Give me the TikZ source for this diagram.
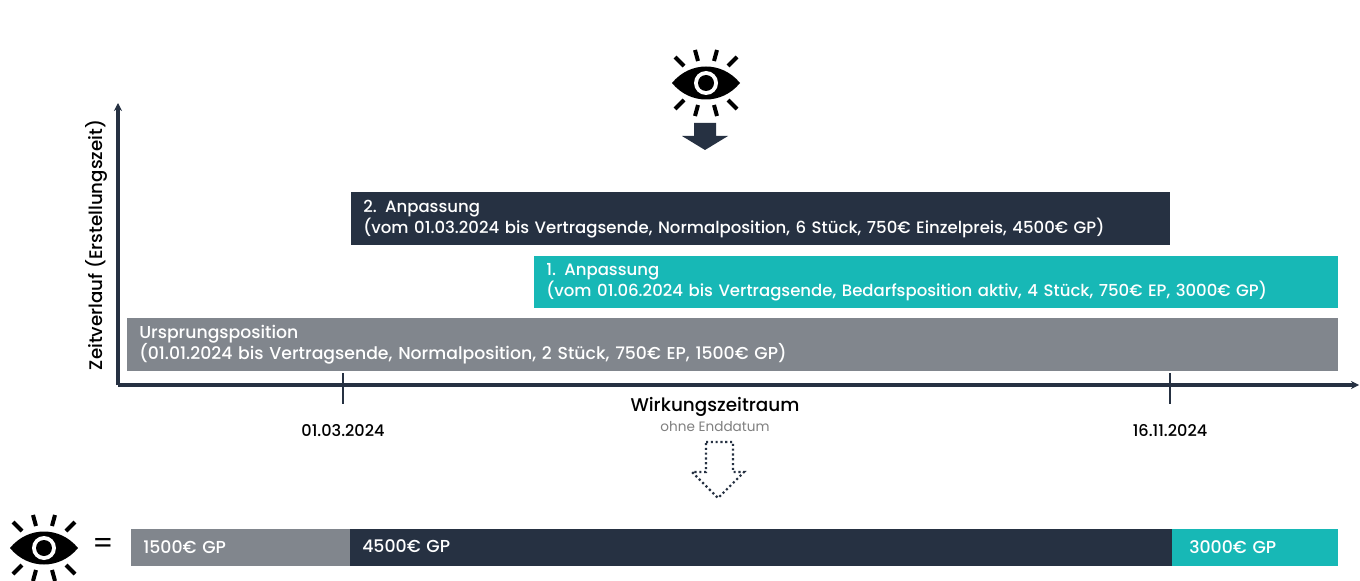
\documentclass[tikz,border=0pt]{standalone}
\usepackage{fontspec}
\setmainfont{Poppins Medium}
\newfontfamily\lightfont{Poppins}
\usepackage{tikz}
\usetikzlibrary{arrows.meta, positioning, calc}
\definecolor{navy}{HTML}{263142}
\definecolor{teal}{HTML}{17B8B6}
\definecolor{steel}{HTML}{81868D}
\tikzset{
    barbox/.style={anchor=north west, inner xsep=9pt, inner ysep=0pt, text=white, align=left,
        font=\fontsize{12.4}{15.8}\selectfont, minimum height=#1*0.75pt},
    sumbox/.style={anchor=west, inner xsep=9pt, inner ysep=0pt, text=white,
        font=\fontsize{13}{15.6}\selectfont, minimum height=28pt},
    axisline/.style={navy, line width=2.7pt, -{Stealth[length=6pt, width=6pt]}},
    tickline/.style={navy, line width=1.5pt},
    datelabel/.style={font=\fontsize{12.1}{14}\selectfont, text=black},
    pics/eyeicon/.style={code={
        \fill[black] (-34,0) .. controls (-16,-22) and (16,-22) .. (34,0)
            .. controls (16,22) and (-16,22) .. (-34,0) -- cycle;
        \fill[white] (0,0) circle (12);
        \fill[black] (0,0) circle (8);
        \foreach \sy in {-1,1} \foreach \sx in {-1,1} {
            \draw[black, line width=3pt] (\sx*31,\sy*26) -- (\sx*22,\sy*17);
            \draw[black, line width=3pt] (\sx*11,\sy*33) -- (\sx*8,\sy*22);
        }
    }},
}
\begin{document}
\begin{tikzpicture}[x=0.75pt, y=-0.75pt]
    \useasboundingbox[fill=white] (0,0) rectangle (1360,581);

    % Upper eye and arrow
    \pic (eyetop) at (706,83) {eyeicon};
    \fill[navy] (694,123) -- (716,123) -- (716,136) -- (728,136) -- (705,150) -- (682,136) -- (694,136) -- cycle;

    % Axes
    \coordinate (origin) at (118,385);
    \coordinate (ytop) at (118,103);
    \coordinate (xend) at (1359,385);
    \draw[axisline] (origin) -- (ytop);
    \draw[axisline] (origin) -- (xend);
    \node[rotate=90, font=\fontsize{13.65}{15}\selectfont] (ylabel) at (96,245) {Zeitverlauf (Erstellungszeit)};

    % Bars
    \node[barbox=53, fill=navy, text width=819*0.75pt-18pt] (second) at (351,192)
        {\raisebox{-0.7pt}{2. Anpassung}\\\raisebox{-0.7pt}{(vom 01.03.2024 bis Vertragsende, Normalposition, 6 Stück, 750€ Einzelpreis, 4500€ GP)}};
    \node[barbox=52, fill=teal, text width=804*0.75pt-18pt] (first) at (534,256)
        {1. Anpassung\\(vom 01.06.2024 bis Vertragsende, Bedarfsposition aktiv, 4 Stück, 750€ EP, 3000€ GP)};
    \node[barbox=53, fill=steel, text width=1211*0.75pt-18pt, font=\fontsize{12.95}{15.8}\selectfont] (origpos) at (127,318)
        {Ursprungsposition\\(01.01.2024 bis Vertragsende, Normalposition, 2 Stück, 750€ EP, 1500€ GP)};

    % Ticks and dates
    \coordinate (tickA) at (343,373);
    \coordinate (tickB) at (1170,373);
    \draw[tickline] (tickA) -- ++(0,31);
    \draw[tickline] (tickB) -- ++(0,31);
    \node[datelabel] (dateA) at (343,431) {01.03.2024};
    \node[datelabel] (dateB) at (1170,431) {16.11.2024};
    \node[font=\fontsize{13.8}{15}\selectfont, text=black] (wirk) at (715,406.5) {Wirkungszeitraum};
    \node[font=\lightfont\fontsize{10.2}{11}\selectfont, text=gray, below=-3pt of wirk] (noend) {ohne Enddatum};

    % Dotted arrow
    \draw[navy, line width=1.6pt, dotted] (706,442) -- (733,442) -- (733,472) -- (744,472)
        -- (718,498) -- (692,472) -- (706,472) -- cycle;

    % Result row
    \pic (eyelow) at (44,548) {eyeicon};
    \node[font=\lightfont\fontsize{22}{24}\selectfont, text=black] (equal) at (103,546) {=};
    \node[sumbox, fill=steel, text width=219*0.75pt-18pt] (sumA) at (131,547.5) {1500€ GP};
    \node[sumbox, fill=navy, text width=822*0.75pt-18pt] (sumB) at (350,547.5) {\raisebox{1.5pt}{4500€ GP}};
    \node[sumbox, fill=teal, inner xsep=12.75pt, text width=166*0.75pt-25.5pt] (sumC) at (1172,547.5) {3000€ GP};
\end{tikzpicture}
\end{document}
